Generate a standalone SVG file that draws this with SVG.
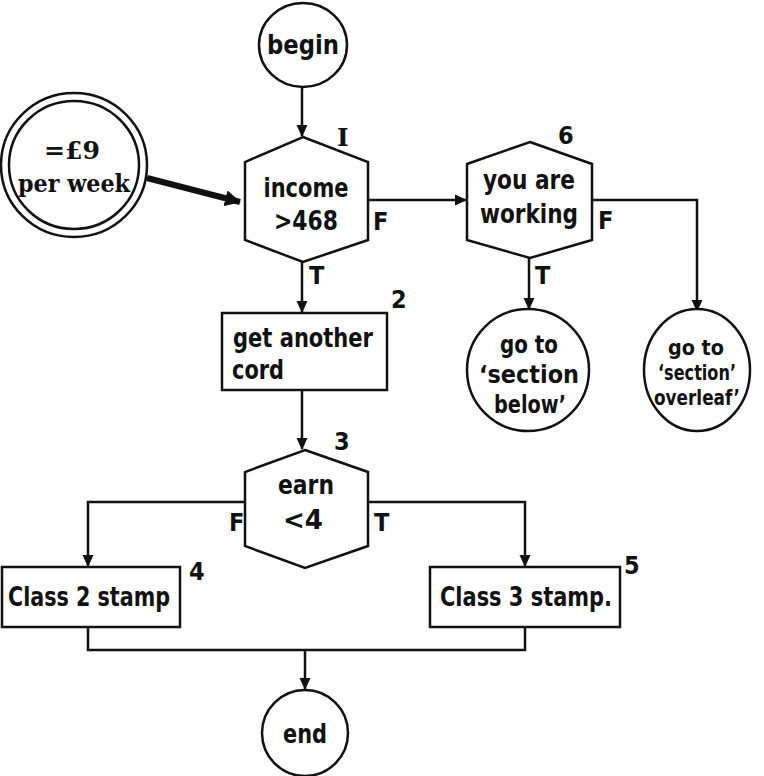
<svg xmlns="http://www.w3.org/2000/svg" width="764" height="776" viewBox="0 0 764 776">
<defs>
<style>
.s{fill:#fff;stroke:#111;stroke-width:2.5}
.c{fill:none;stroke:#111;stroke-width:2.5}
.t{font-family:"DejaVu Sans Condensed","Liberation Sans Narrow","Liberation Sans",sans-serif;font-weight:bold;font-size:26px;fill:#111;text-anchor:middle}
.r{font-family:"DejaVu Serif Condensed","DejaVu Serif","Liberation Serif",serif;font-weight:bold;font-size:25px;fill:#111;text-anchor:middle}
.l{font-family:"DejaVu Sans Condensed","Liberation Sans",sans-serif;font-weight:bold;font-size:25px;fill:#111}
</style>
<marker id="a" markerWidth="12" markerHeight="12" refX="11" refY="6" orient="auto" markerUnits="userSpaceOnUse" viewBox="0 0 12 12">
<path d="M0,0.5 L12,6 L0,11.5 z" fill="#111"/>
</marker>
<marker id="b" markerWidth="16" markerHeight="16" refX="15" refY="8" orient="auto" markerUnits="userSpaceOnUse" viewBox="0 0 16 16">
<path d="M0,0 L16,8 L0,16 z" fill="#111"/>
</marker>
</defs>
<g id="connectors">
<path class="c" d="M302,88 L302,136" marker-end="url(#a)"/>
<path d="M147,178 L240,202" stroke="#111" stroke-width="6" fill="none" marker-end="url(#b)"/>
<path class="c" d="M368,200 L466,200" marker-end="url(#a)"/>
<path class="c" d="M592,200 L697,200 L697,311" marker-end="url(#a)"/>
<path class="c" d="M529,258 L529,309" marker-end="url(#a)"/>
<path class="c" d="M302,262 L302,312" marker-end="url(#a)"/>
<path class="c" d="M302,390 L302,449" marker-end="url(#a)"/>
<path class="c" d="M245,502 L88,502 L88,566" marker-end="url(#a)"/>
<path class="c" d="M368,502 L525,502 L525,566" marker-end="url(#a)"/>
<path class="c" d="M88,627 L88,650 L525,650 L525,627"/>
<path class="c" d="M305,650 L305,689" marker-end="url(#a)"/>
</g>
<g id="begin">
<ellipse class="s" cx="303" cy="45" rx="44" ry="42"/>
<text class="t" x="303" y="54" textLength="72" lengthAdjust="spacingAndGlyphs">begin</text>
</g>
<g id="rate">
<ellipse class="s" cx="74" cy="165" rx="73" ry="72"/>
<ellipse class="s" cx="74" cy="165" rx="65" ry="64"/>
<text class="r" x="72" y="159" textLength="56" lengthAdjust="spacingAndGlyphs">=£9</text>
<text class="r" x="74" y="192" textLength="112" lengthAdjust="spacingAndGlyphs">per week</text>
</g>
<g id="income">
<polygon class="s" points="303,137 368,162 368,240 303,262 245,240 245,162"/>
<text class="t" x="306" y="197" textLength="85" lengthAdjust="spacingAndGlyphs">income</text>
<text class="t" x="306" y="230" textLength="64" lengthAdjust="spacingAndGlyphs">&gt;468</text>
<text x="337" y="146" style="font-family:'DejaVu Serif','Liberation Serif',serif;font-weight:bold;font-size:25px;fill:#111">I</text>
<text class="l" x="373" y="230">F</text>
<text class="l" x="309" y="284">T</text>
</g>
<g id="working">
<polygon class="s" points="530,142 592,164 592,240 530,258 467,240 467,164"/>
<text class="t" x="529" y="189" textLength="92" lengthAdjust="spacingAndGlyphs">you are</text>
<text class="t" x="529" y="223" textLength="98" lengthAdjust="spacingAndGlyphs">working</text>
<text class="l" x="558" y="144">6</text>
<text class="l" x="598" y="229">F</text>
<text class="l" x="535" y="284">T</text>
</g>
<g id="below">
<ellipse class="s" cx="528" cy="370" rx="61" ry="61"/>
<text class="t" x="529" y="353" textLength="58" lengthAdjust="spacingAndGlyphs" style="font-size:25px">go to</text>
<text class="t" x="529" y="383" textLength="100" lengthAdjust="spacingAndGlyphs" style="font-size:25px">‘section</text>
<text class="t" x="530" y="413" textLength="72" lengthAdjust="spacingAndGlyphs" style="font-size:25px">below’</text>
</g>
<g id="overleaf">
<ellipse class="s" cx="697" cy="370" rx="53" ry="61"/>
<text class="t" x="696" y="355" textLength="56" lengthAdjust="spacingAndGlyphs" style="font-size:22px">go to</text>
<text class="t" x="697" y="380" textLength="78" lengthAdjust="spacingAndGlyphs" style="font-size:22px">‘section’</text>
<text class="t" x="697" y="405" textLength="86" lengthAdjust="spacingAndGlyphs" style="font-size:22px">overleaf’</text>
</g>
<g id="card">
<rect class="s" x="222" y="313" width="165" height="77"/>
<text class="t" x="233" y="347" textLength="140" lengthAdjust="spacingAndGlyphs" style="text-anchor:start">get another</text>
<text class="t" x="232" y="379" textLength="52" lengthAdjust="spacingAndGlyphs" style="text-anchor:start">cord</text>
<text class="l" x="391" y="308">2</text>
</g>
<g id="earn">
<polygon class="s" points="305,450 368,472 368,546 305,568 245,546 245,472"/>
<text class="t" x="306" y="494" textLength="56" lengthAdjust="spacingAndGlyphs">earn</text>
<text class="t" x="303" y="529" textLength="40" lengthAdjust="spacingAndGlyphs">&lt;4</text>
<text class="l" x="334" y="450">3</text>
<text class="l" x="229" y="531">F</text>
<text class="l" x="374" y="531">T</text>
</g>
<g id="class2">
<rect class="s" x="2" y="567" width="178" height="60"/>
<text class="t" x="89" y="606" textLength="162" lengthAdjust="spacingAndGlyphs">Class 2 stamp</text>
<text class="l" x="189" y="580">4</text>
</g>
<g id="class3">
<rect class="s" x="430" y="567" width="190" height="60"/>
<text class="t" x="526" y="606" textLength="172" lengthAdjust="spacingAndGlyphs">Class 3 stamp.</text>
<text class="l" x="624" y="574">5</text>
</g>
<g id="end">
<ellipse class="s" cx="305" cy="733" rx="43" ry="43"/>
<text class="t" x="305" y="743" textLength="44" lengthAdjust="spacingAndGlyphs">end</text>
</g>
</svg>
